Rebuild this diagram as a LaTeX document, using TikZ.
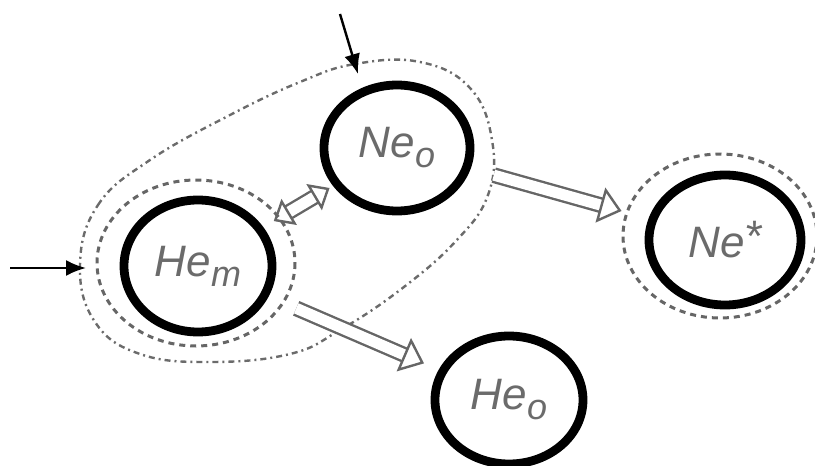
\documentclass[tikz,border=0pt]{standalone}
\usepackage{fontspec}
\setmainfont{Liberation Sans}
\usetikzlibrary{shapes.geometric,arrows.meta}
\tikzset{
  >=Latex,
  species/.style={ellipse,draw=black,line width=4.4pt,fill=white,inner sep=0pt,
    font=\fontsize{22}{24}\selectfont\itshape,text=black!58},
  ring/.style={draw=black!60,line width=1.5pt,dash pattern=on 3pt off 2.5pt},
  loopline/.style={draw=black!58,line width=1.2pt,dash pattern=on 3pt off 2pt on 1pt off 2pt},
  feed/.style={line width=1.2pt,->,>={Latex[length=10pt,width=8pt]}},
  flow/.style={draw=black!60,line width=1.2pt,double=white,double distance=5.5pt,
    -{Triangle[open,length=11pt,width=18pt]}},
  swap/.style={flow,{Triangle[open,length=9pt,width=15pt]}-{Triangle[open,length=9pt,width=15pt]}},
}
\newcommand{\lowsub}[1]{\raisebox{-5pt}{\fontsize{18}{20}\selectfont#1}}
\begin{document}
\begin{tikzpicture}[x=0.5pt,y=-0.5pt]
  \useasboundingbox (0,0) rectangle (815,466);
  % dashed envelopes
  \draw[loopline] plot[smooth cycle,tension=0.7] coordinates {(80,265) (98,205) (150,160) (230,115) (300,82) (355,64) (420,62) (470,88) (492,140) (488,195) (455,242) (400,290) (340,330) (290,354) (210,362) (140,354) (95,322)};
  \draw[ring] (196,263) ellipse [x radius=99,y radius=83];
  \draw[ring] (720,236) ellipse [x radius=97,y radius=82];
  % species
  \node[species,minimum width=74pt,minimum height=66pt] (hem) at (198,266) {He\lowsub{m}};
  \node[species,minimum width=73pt,minimum height=63pt] (neo) at (397,148) {Ne\lowsub{o}};
  \node[species,minimum width=76pt,minimum height=65pt] (nestar) at (725,240) {Ne\raisebox{3pt}{*}};
  \node[species,minimum width=74pt,minimum height=64pt] (heo) at (509,400) {He\lowsub{o}};
  % feeds
  \coordinate (inleft) at (10,268);
  \coordinate (inleftend) at (86,268);
  \coordinate (intop) at (340,14);
  \coordinate (intopend) at (358,74);
  \draw[feed] (inleft) -- (inleftend);
  \draw[feed] (intop) -- (intopend);
  % transfers
  \draw[swap,shorten <=6pt,shorten >=2pt] (hem) -- (neo);
  \draw[flow,shorten <=12pt,shorten >=14pt] (neo) -- (nestar);
  \draw[flow,shorten <=15pt,shorten >=8pt] (hem) -- (heo);
\end{tikzpicture}
\end{document}
